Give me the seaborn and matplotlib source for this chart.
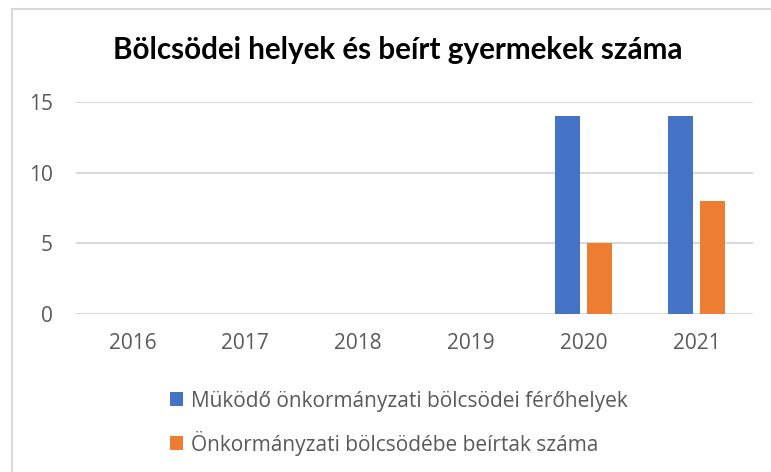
import matplotlib.pyplot as plt
import seaborn as sns
import pandas as pd
from matplotlib.lines import Line2D

years = ["2016", "2017", "2018", "2019", "2020", "2021"]
places = [0, 0, 0, 0, 14, 14]
enrolled = [0, 0, 0, 0, 5, 8]
series_names = ["Müködő önkormányzati bölcsödei férőhelyek",
                "Önkormányzati bölcsödébe beírtak száma"]
colors = ["#4472C4", "#ED7D31"]

df = pd.DataFrame({
    "year": years * 2,
    "value": places + enrolled,
    "series": [series_names[0]] * len(years) + [series_names[1]] * len(years),
})

sns.set_theme(style="white")
plt.rcParams["font.family"] = ["Open Sans", "DejaVu Sans"]

fig = plt.figure(figsize=(7.71, 4.72), dpi=100)
ax = fig.add_axes([76 / 771, 1 - 314 / 472, 677 / 771, 212 / 472])

sns.barplot(data=df, x="year", y="value", hue="series", palette=colors,
            saturation=1, width=0.57, gap=0.22, linewidth=0, ax=ax, legend=True)

ax.set_ylim(0, 15)
ax.set_yticks([0, 5, 10, 15])
ax.grid(axis="y", color="#D9D9D9", linewidth=1.5)
ax.set_axisbelow(True)
for s in ax.spines.values():
    s.set_visible(False)
ax.set_xlabel("")
ax.set_ylabel("")
ax.tick_params(axis="both", length=0, labelsize=15, labelcolor="#595959")
ax.tick_params(axis="x", pad=14)
ax.tick_params(axis="y", pad=16.5)

handles, labels = ax.get_legend_handles_labels()
ax.get_legend().remove()
fig.legend(handles, labels, loc="upper left", bbox_to_anchor=(151 / 771, 1 - 372 / 472),
           frameon=False, fontsize=15, labelcolor="#595959",
           handlelength=0.65, handleheight=0.65, handletextpad=0.35,
           labelspacing=0.9)

fig.text(398 / 771, 1 - 50 / 472, "Bölcsödei helyek és beírt gyermekek száma",
         family=["Lato", "DejaVu Sans"], ha="center", va="center",
         fontsize=21.3, fontweight="bold", color="black")

# chart area border (left and top edges visible)
fig.add_artist(Line2D([12 / 771, 12 / 771], [0, 1 - 9 / 472], color="#D9D9D9", linewidth=1.5))
fig.add_artist(Line2D([12 / 771, 1], [1 - 9 / 472, 1 - 9 / 472], color="#D9D9D9", linewidth=1.5))

fig.savefig("out.png", dpi=100)
